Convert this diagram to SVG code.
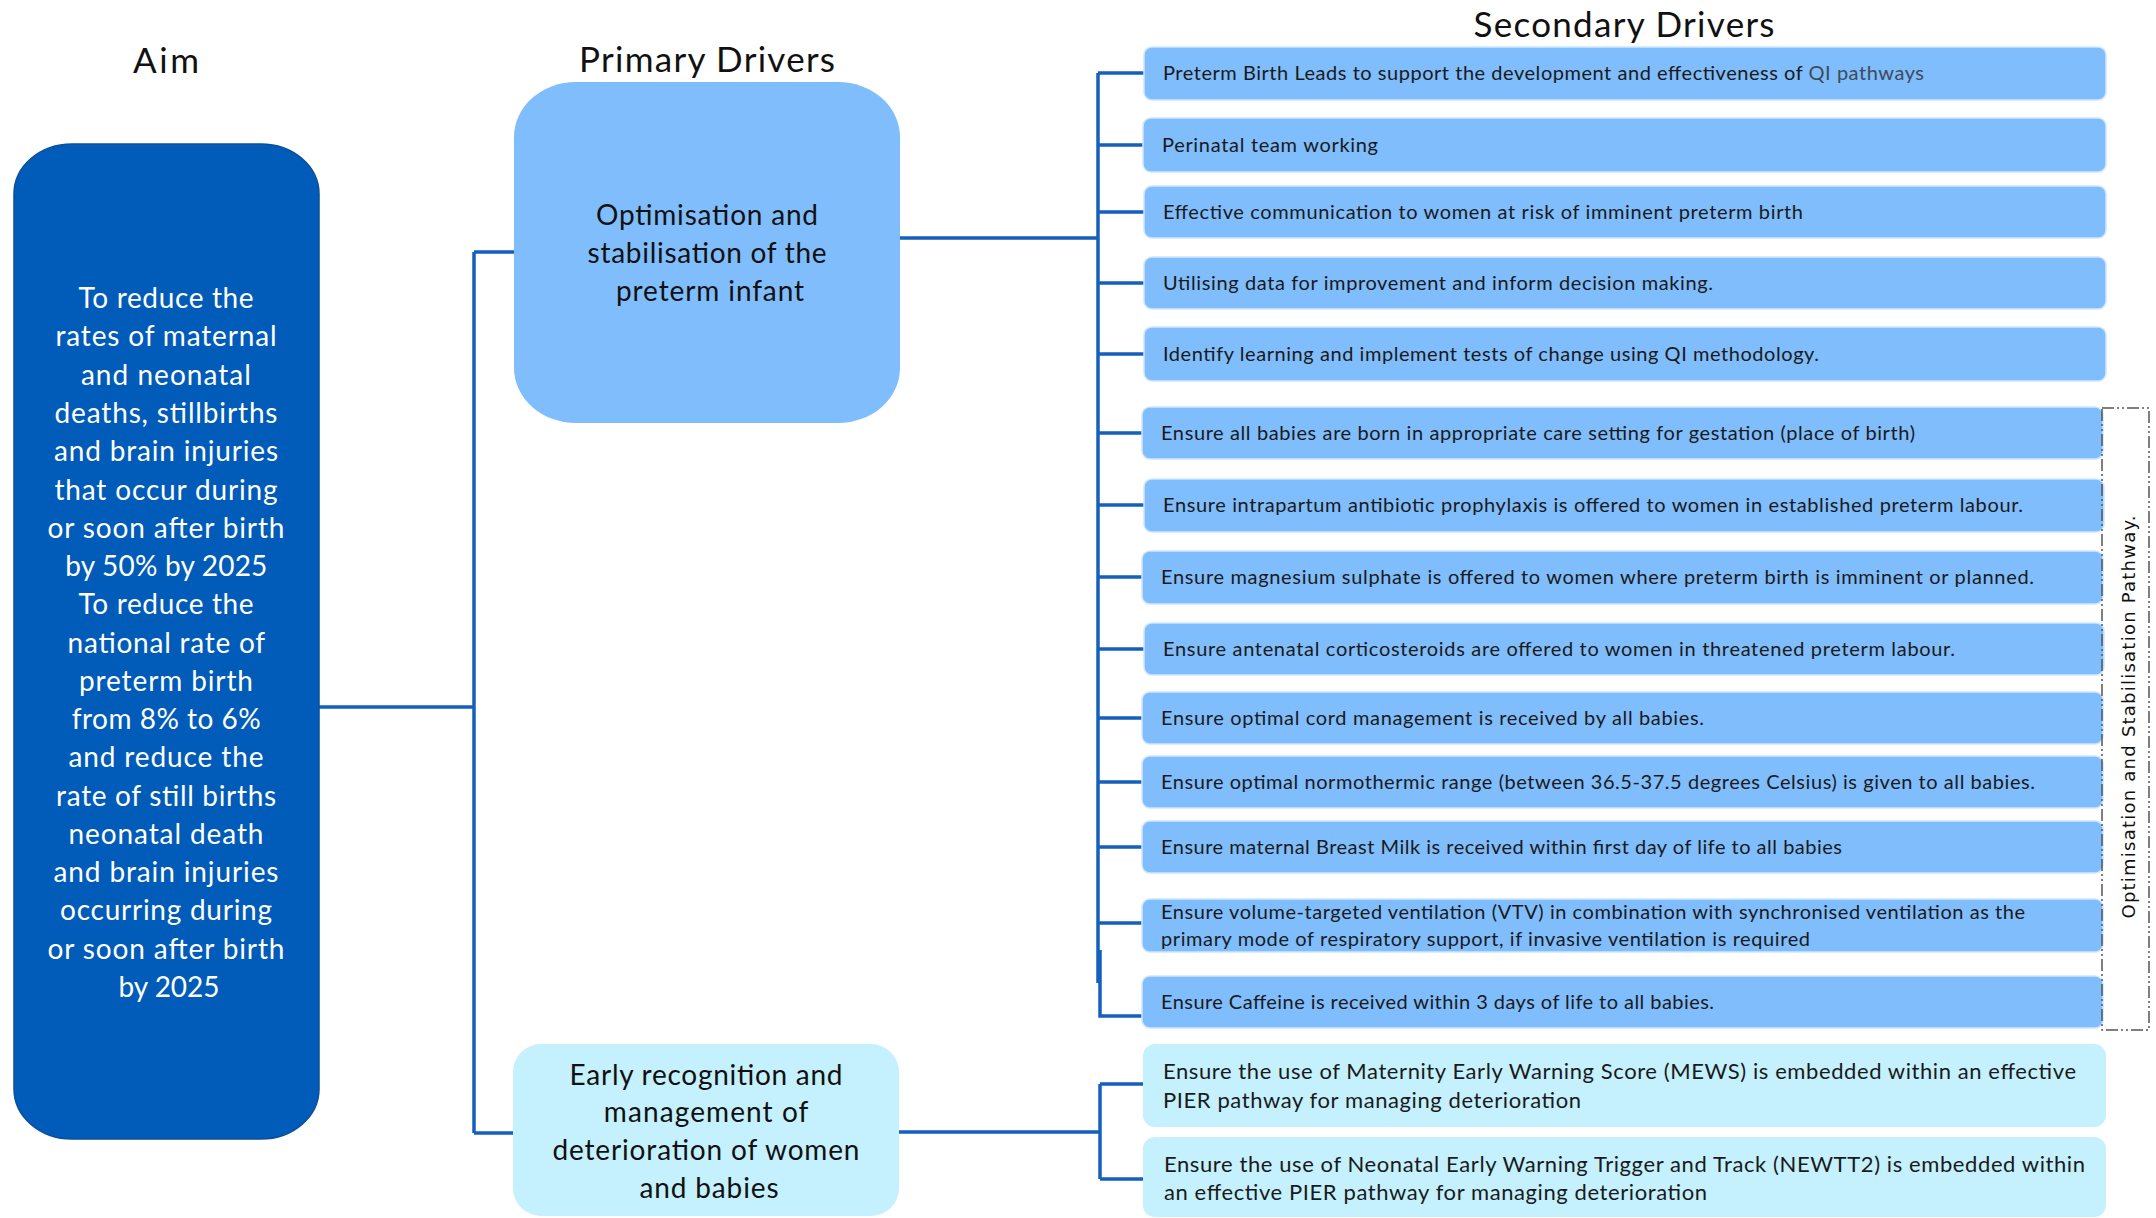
<svg xmlns="http://www.w3.org/2000/svg" width="2156" height="1218" viewBox="0 0 2156 1218">
<style>
.title{font-family:Lato,"Liberation Sans",sans-serif;font-size:35px;fill:#111;text-anchor:middle}
.aim{font-family:Lato,"Liberation Sans",sans-serif;font-size:28px;fill:#fff;text-anchor:middle}
.pd{font-family:Lato,"Liberation Sans",sans-serif;font-size:28px;fill:#111;text-anchor:middle}
.sd{font-family:Lato,"Liberation Sans",sans-serif;font-size:20px;fill:#1a1a1a}
.sdc{font-family:Lato,"Liberation Sans",sans-serif;font-size:22px;fill:#1a1a1a}
.blue{fill:#7fbdfd;stroke:#cfe6ff;stroke-width:1.5}
.cyan{fill:#c4f1fd}
.conn{fill:none;stroke:#1660bd;stroke-width:3.5}
.vert{font-family:"DejaVu Sans",Verdana,sans-serif;font-size:18px;fill:#111;text-anchor:middle}
</style>
<rect width="2156" height="1218" fill="#fff"/>

<g id="titles">
<text class="title" x="166" y="73" textLength="66">Aim</text>
<text class="title" x="707" y="72" textLength="256">Primary Drivers</text>
<text class="title" x="1624" y="37" textLength="301">Secondary Drivers</text>
</g>

<g id="connectors">
<path class="conn" d="M319,707 H474 M474,252 V1133 M474,252 H514 M474,1133 H514"/>
<path class="conn" d="M899,238 H1099 M1098,73 V983 M1100,950 V1016 H1143"/>
<path class="conn" d="M1098,73 H1144 M1098,145 H1144 M1098,212 H1144 M1098,283 H1144 M1098,354 H1144 M1098,433 H1142 M1098,505 H1144 M1098,577 H1142 M1098,649 H1144 M1098,718 H1142 M1098,782 H1142 M1098,847 H1142 M1098,923 H1142"/>
<path class="conn" d="M899,1132 H1100 M1100,1084 V1179 M1100,1084 H1143 M1100,1179 H1143"/>
</g>

<g id="aim">
<rect x="14" y="144" width="305" height="995" rx="58" ry="50" fill="#005cb8" stroke="#0a4f9c" stroke-width="1.5"/>
<text class="aim">
<tspan x="170" y="308" textLength="175">To reduce the</tspan>
<tspan x="170" y="346" textLength="221">rates of maternal</tspan>
<tspan x="170" y="385" textLength="170">and neonatal</tspan>
<tspan x="170" y="423" textLength="223">deaths, stillbirths</tspan>
<tspan x="170" y="461" textLength="224">and brain injuries</tspan>
<tspan x="170" y="500" textLength="223">that occur during</tspan>
<tspan x="170" y="538" textLength="237">or soon after birth</tspan>
<tspan x="170" y="576" textLength="202">by 50% by 2025</tspan>
<tspan x="170" y="614" textLength="175">To reduce the</tspan>
<tspan x="170" y="653" textLength="197">national rate of</tspan>
<tspan x="170" y="691" textLength="174">preterm birth</tspan>
<tspan x="170" y="729" textLength="189">from 8% to 6%</tspan>
<tspan x="170" y="767" textLength="195">and reduce the</tspan>
<tspan x="170" y="806" textLength="220">rate of still births</tspan>
<tspan x="170" y="844" textLength="195">neonatal death</tspan>
<tspan x="170" y="882" textLength="225">and brain injuries</tspan>
<tspan x="170" y="920" textLength="212">occurring during</tspan>
<tspan x="170" y="959" textLength="237">or soon after birth</tspan>
<tspan x="169" y="997" textLength="101">by 2025</tspan>
</text>
</g>

<g id="primary1">
<rect x="514" y="82" width="386" height="341" rx="62" ry="55" fill="#7fbdfd"/>
<text class="pd">
<tspan x="711" y="225" textLength="222">Optimisation and</tspan>
<tspan x="711" y="263" textLength="239">stabilisation of the</tspan>
<tspan x="710" y="301" textLength="188">preterm infant</tspan>
</text>
</g>

<g id="primary2">
<rect x="513" y="1044" width="386" height="172" rx="28" fill="#c4f1fd"/>
<text class="pd">
<tspan x="710" y="1085" textLength="273">Early recognition and</tspan>
<tspan x="710" y="1122" textLength="204">management of</tspan>
<tspan x="710" y="1160" textLength="307">deterioration of women</tspan>
<tspan x="709" y="1198" textLength="139">and babies</tspan>
</text>
</g>

<g id="s1"><rect class="blue" x="1144" y="47" width="962" height="53" rx="8"/>
<text class="sd" x="1163" y="80" textLength="761">Preterm Birth Leads to support the development and effectiveness of <tspan fill="#3e4a5a">QI pathways</tspan></text></g>
<g id="s2"><rect class="blue" x="1143" y="118" width="963" height="54" rx="8"/>
<text class="sd" x="1162" y="152" textLength="216">Perinatal team working</text></g>
<g id="s3"><rect class="blue" x="1144" y="186" width="962" height="52" rx="8"/>
<text class="sd" x="1163" y="219" textLength="640">Effective communication to women at risk of imminent preterm birth</text></g>
<g id="s4"><rect class="blue" x="1144" y="257" width="962" height="52" rx="8"/>
<text class="sd" x="1163" y="290" textLength="550">Utilising data for improvement and inform decision making.</text></g>
<g id="s5"><rect class="blue" x="1144" y="327" width="962" height="54" rx="8"/>
<text class="sd" x="1163" y="361" textLength="656" fill="#3a3f48">Identify learning and implement tests of change using QI methodology.</text></g>
<g id="s6"><rect class="blue" x="1142" y="407" width="961" height="52" rx="8"/>
<text class="sd" x="1161" y="440" textLength="754">Ensure all babies are born in appropriate care setting for gestation (place of birth)</text></g>
<g id="s7"><rect class="blue" x="1144" y="479" width="960" height="53" rx="8"/>
<text class="sd" x="1163" y="512" textLength="860">Ensure intrapartum antibiotic prophylaxis is offered to women in established preterm labour.</text></g>
<g id="s8"><rect class="blue" x="1142" y="551" width="961" height="53" rx="8"/>
<text class="sd" x="1161" y="584" textLength="873">Ensure magnesium sulphate is offered to women where preterm birth is imminent or planned.</text></g>
<g id="s9"><rect class="blue" x="1144" y="623" width="960" height="52" rx="8"/>
<text class="sd" x="1163" y="656" textLength="792">Ensure antenatal corticosteroids are offered to women in threatened preterm labour.</text></g>
<g id="s10"><rect class="blue" x="1142" y="692" width="961" height="52" rx="8"/>
<text class="sd" x="1161" y="725" textLength="543">Ensure optimal cord management is received by all babies.</text></g>
<g id="s11"><rect class="blue" x="1142" y="756" width="961" height="52" rx="8"/>
<text class="sd" x="1161" y="789" textLength="874">Ensure optimal normothermic range (between 36.5-37.5 degrees Celsius) is given to all babies.</text></g>
<g id="s12"><rect class="blue" x="1142" y="821" width="961" height="52" rx="8"/>
<text class="sd" x="1161" y="854" textLength="681">Ensure maternal Breast Milk is received within first day of life to all babies</text></g>
<g id="s13"><rect class="blue" x="1142" y="899" width="961" height="53" rx="8"/>
<text class="sd" x="1161" y="919" textLength="864">Ensure volume-targeted ventilation (VTV) in combination with synchronised ventilation as the</text>
<text class="sd" x="1161" y="946" textLength="649">primary mode of respiratory support, if invasive ventilation is required</text></g>
<g id="s14"><rect class="blue" x="1142" y="976" width="961" height="52" rx="8"/>
<text class="sd" x="1161" y="1009" textLength="553">Ensure Caffeine is received within 3 days of life to all babies.</text></g>
<g id="s15"><rect class="cyan" x="1143" y="1044" width="963" height="83" rx="12"/>
<text class="sdc" x="1163" y="1079" textLength="913">Ensure the use of Maternity Early Warning Score (MEWS) is embedded within an effective</text>
<text class="sdc" x="1163" y="1108" textLength="418">PIER pathway for managing deterioration</text></g>
<g id="s16"><rect class="cyan" x="1143" y="1137" width="963" height="80" rx="12"/>
<text class="sdc" x="1164" y="1172" textLength="921">Ensure the use of Neonatal Early Warning Trigger and Track (NEWTT2) is embedded within</text>
<text class="sdc" x="1164" y="1200" textLength="543">an effective PIER pathway for managing deterioration</text></g>

<g id="pathway">
<rect x="2102" y="408" width="47" height="622" fill="none" stroke="#555" stroke-width="1.5" stroke-dasharray="12 3 2 3 2 3"/>
<text class="vert" transform="translate(2135,717) rotate(-90)" x="0" y="0" textLength="403">Optimisation and Stabilisation Pathway.</text>
</g>
</svg>
